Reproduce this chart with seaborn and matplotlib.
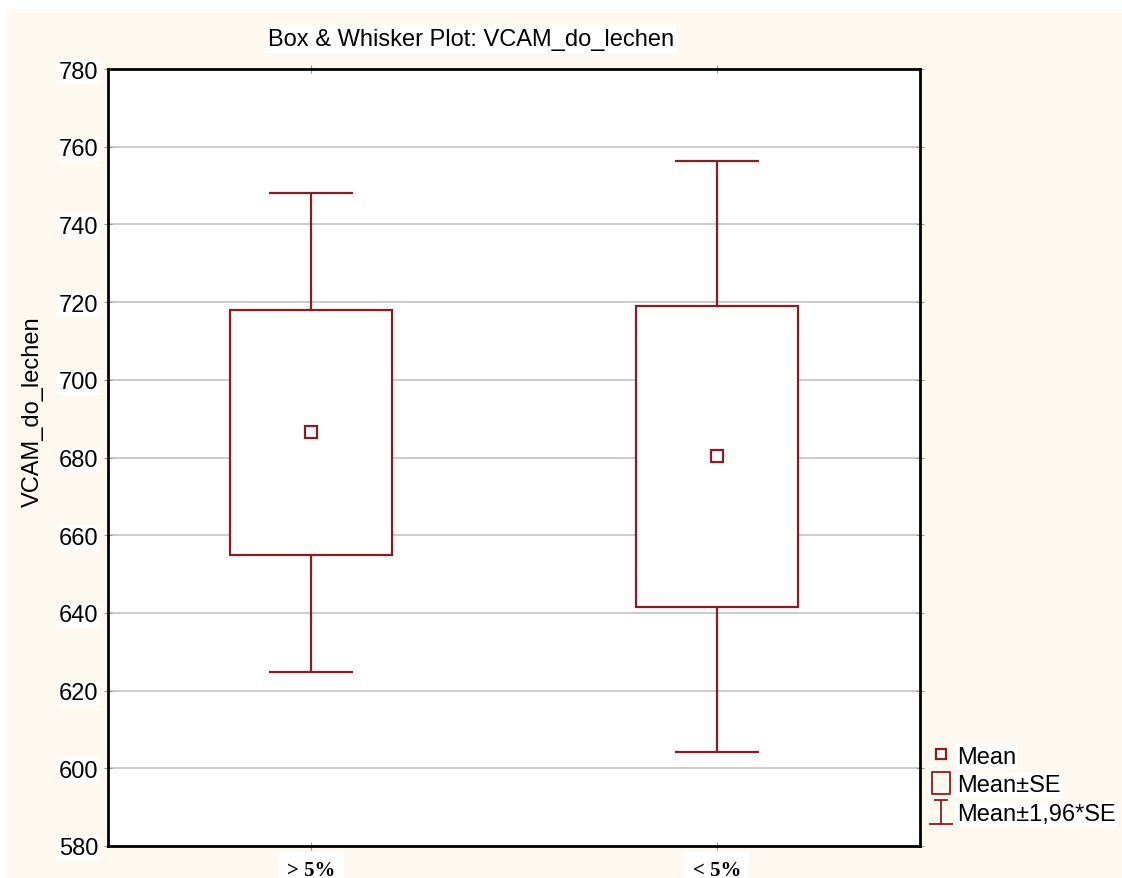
#!/usr/bin/env python3
"""Box & whisker plot (mean, mean±SE, mean±1.96*SE) for VCAM_do_lechen."""

import matplotlib.pyplot as plt
import numpy as np
import pandas as pd
import seaborn as sns
from matplotlib.lines import Line2D
from matplotlib.patches import Rectangle
from matplotlib.path import Path

# values
GROUPS = ["> 5%", "< 5%"]
MEANS = [686.5, 680.3]
SE_LOW = [655.0, 641.5]
SE_HIGH = [718.0, 719.0]
CI_LOW = [624.8, 604.3]
CI_HIGH = [748.2, 756.4]
Y_TICKS = [580, 600, 620, 640, 660, 680, 700, 720, 740, 760, 780]

RED = "#8c1c24"
CREAM = "#fef9f0"
BOX_WIDTH = 0.4
CAP_WIDTH = 0.205

sns.set_style("white")
plt.rcParams.update({
    "font.size": 17,
    "text.color": "black",
    "axes.labelcolor": "black",
    "xtick.color": "black",
    "ytick.color": "black",
})
plt.rcParams["font.family"] = ["Liberation Sans", "DejaVu Sans"]


def build_frame() -> pd.DataFrame:
    # five points per group so that quartiles land on mean±SE and the
    # whisker ends on mean±1.96*SE (whis=(0, 100))
    rows = []
    for i, g in enumerate(GROUPS):
        for v in (CI_LOW[i], SE_LOW[i], MEANS[i], SE_HIGH[i], CI_HIGH[i]):
            rows.append({"group": g, "value": v})
    return pd.DataFrame(rows)


def main() -> None:
    df = build_frame()
    means = pd.DataFrame({"group": GROUPS, "mean": MEANS})

    fig = plt.figure(figsize=(11.22, 8.79), dpi=100, facecolor="white")
    fig.patches.append(Rectangle((7 / 1122, 0), 1, 1 - 10 / 879,
                                 transform=fig.transFigure, facecolor=CREAM,
                                 edgecolor="none", zorder=-10))
    ax = fig.add_axes([108 / 1122, 1 - 847 / 879, (920 - 108) / 1122, (847 - 70) / 879])
    ax.set_facecolor("white")

    sns.boxplot(data=df, x="group", y="value", order=GROUPS, whis=(0, 100),
                width=BOX_WIDTH, color="white", linecolor=RED, linewidth=1.6,
                saturation=1, medianprops={"visible": False},
                capprops={"visible": False}, ax=ax)

    # caps drawn separately so their width is under control
    pos = np.arange(len(GROUPS))
    ax.hlines(CI_HIGH + CI_LOW, np.tile(pos, 2) - CAP_WIDTH / 2,
              np.tile(pos, 2) + CAP_WIDTH / 2, color=RED, linewidth=1.6, zorder=3)

    sns.pointplot(data=means, x="group", y="mean", order=GROUPS, color=RED,
                  markers="s", linestyles="none", errorbar=None,
                  markersize=8, markerfacecolor="white",
                  markeredgewidth=1.6, ax=ax)

    ax.set_xlim(-0.5, 1.5)
    ax.set_ylim(580, 780)
    ax.set_yticks(Y_TICKS)
    ax.yaxis.grid(True, color="#c4c4c4", linewidth=1.2)
    ax.set_axisbelow(True)
    ax.set_xlabel("")
    ax.set_ylabel("")
    for s in ax.spines.values():
        s.set_visible(True)
        s.set_color("black")
        s.set_linewidth(2)
    ax.tick_params(axis="y", direction="inout", length=6, color="#999999",
                   labelcolor="black", right=True, left=True, labelsize=17, pad=4)
    ax.tick_params(axis="x", direction="inout", length=6, color="#999999",
                   labelcolor="black", top=True, bottom=True, pad=7)
    for lbl in ax.get_xticklabels():
        lbl.set_fontfamily("Liberation Serif")
        lbl.set_fontweight("bold")
        lbl.set_fontsize(15)
        lbl.set_bbox(dict(facecolor="white", edgecolor="none", pad=6))
    for lbl in ax.get_yticklabels():
        lbl.set_bbox(dict(facecolor="white", edgecolor="none", pad=1))

    fig.text(471 / 1122, 1 - 40 / 879, "Box & Whisker Plot: VCAM_do_lechen",
             ha="center", va="center", fontsize=17,
             bbox=dict(facecolor="white", edgecolor="none", pad=2))
    fig.text(33 / 1122, 1 - 412 / 879, "VCAM_do_lechen", rotation=90,
             ha="center", va="center", fontsize=17)

    # legend
    box_path = Path([(-0.4, -0.5), (0.4, -0.5), (0.4, 0.5), (-0.4, 0.5), (-0.4, -0.5)],
                    [Path.MOVETO, Path.LINETO, Path.LINETO, Path.LINETO, Path.CLOSEPOLY])
    whisk_path = Path([(-0.3, 0.5), (0.3, 0.5), (0, 0.5), (0, -0.5), (-0.5, -0.5), (0.5, -0.5)],
                      [Path.MOVETO, Path.LINETO, Path.MOVETO, Path.LINETO,
                       Path.MOVETO, Path.LINETO])
    handles = [
        Line2D([], [], linestyle="none", marker="s", markersize=6.5,
               markerfacecolor="white", markeredgecolor=RED, markeredgewidth=1.6),
        Line2D([], [], linestyle="none", marker=box_path, markersize=16,
               markerfacecolor="none", markeredgecolor=RED, markeredgewidth=1.3),
        Line2D([], [], linestyle="none", marker=whisk_path, markersize=17,
               markerfacecolor="none", markeredgecolor=RED, markeredgewidth=1.3),
    ]
    labels = ["Mean", "Mean\u00b1SE", "Mean\u00b11,96*SE"]
    leg = fig.legend(handles, labels, loc="upper left",
                     bbox_to_anchor=(926 / 1122, 1 - 742 / 879), frameon=False,
                     fontsize=17, handlelength=0.9, handletextpad=0.2,
                     labelspacing=0.28, borderpad=0.2, borderaxespad=0)
    for t in leg.get_texts():
        t.set_bbox(dict(facecolor="white", edgecolor="none", pad=1))

    fig.savefig("out.png", dpi=100, facecolor=fig.get_facecolor())
    plt.close(fig)


if __name__ == "__main__":
    main()
